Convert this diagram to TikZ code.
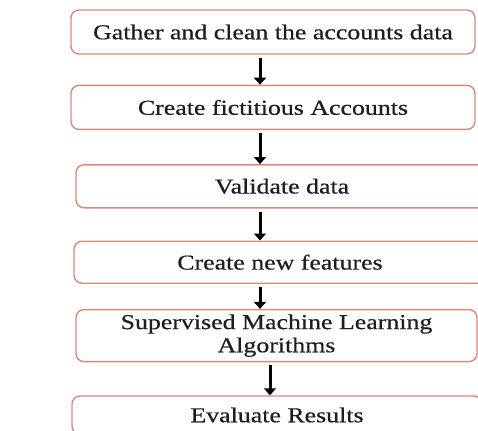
\documentclass[tikz,border=0pt]{standalone}
\usepackage{fontspec}
\setmainfont[FakeStretch=1.22, FakeBold=0.5]{Liberation Serif}
\usepackage{tikz}
\usetikzlibrary{arrows.meta, positioning}
\definecolor{boxedge}{RGB}{220,135,125}
\definecolor{boxtext}{RGB}{30,30,30}
\tikzset{
  stepbox/.style={
    rectangle, rounded corners=4pt, minimum width=202pt,
    minimum height=22pt, align=center, inner sep=2pt,
    draw=boxedge, line width=0.7pt, fill=white, text=boxtext,
    font=\fontsize{10.6}{11.6}\selectfont
  },
  arr/.style={-{Triangle[length=3.5pt,width=6pt]}, line width=1.5pt, shorten <=1.5pt}
}

\begin{document}
\begin{tikzpicture}[x=1pt, y=1pt, node distance=15pt]
  \useasboundingbox (0,0) rectangle (239,-215);
  \clip (0,0) rectangle (239,-215);
  \node[stepbox] (gather) at (136.5,-16) {Gather and clean the accounts data};
  \node[stepbox, below=15pt of gather] (fict) {Create fictitious Accounts};
  \node[stepbox, minimum width=206pt, minimum height=21.5pt,
        below=17pt of fict, xshift=4.5pt] (valid) {Validate data};
  \node[stepbox, minimum width=206pt, minimum height=21pt,
        below=16pt of valid, xshift=-1pt] (feat) {Create new features};
  \node[stepbox, minimum width=200.5pt, minimum height=26pt,
        below=12.5pt of feat, xshift=-1.75pt] (sml)
        {Supervised Machine Learning\\Algorithms};
  \node[stepbox, minimum width=205pt, minimum height=19pt,
        below=16.5pt of sml, xshift=0.25pt] (eval) {Evaluate Results};

  \draw[arr] ([xshift=-6.5pt]gather.south) -- ([xshift=-6.5pt]fict.north);
  \draw[arr] ([xshift=-6.5pt]fict.south) -- ([xshift=-6.5pt]fict.south |- valid.north);
  \draw[arr] ([xshift=-11pt]valid.south) -- ([xshift=-11pt]valid.south |- feat.north);
  \draw[arr] ([xshift=-10pt]feat.south) -- ([xshift=-10pt]feat.south |- sml.north);
  \draw[arr] ([xshift=-3.25pt]sml.south) -- ([xshift=-3.25pt]sml.south |- eval.north);
\end{tikzpicture}
\end{document}
